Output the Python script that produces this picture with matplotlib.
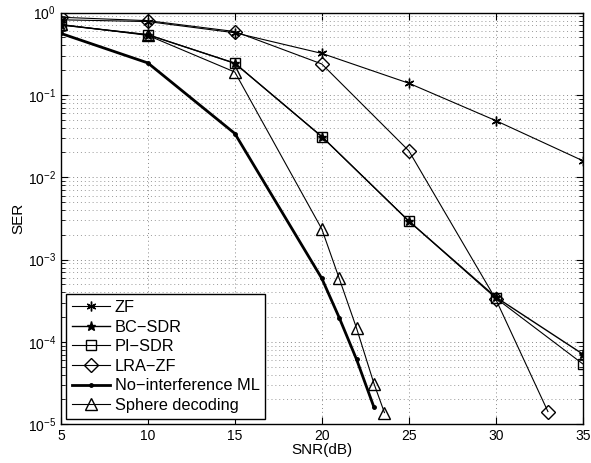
import matplotlib.pyplot as plt
from matplotlib.ticker import LogLocator, NullFormatter

plt.rcParams['font.family'] = ['Liberation Sans', 'DejaVu Sans']
plt.rcParams['mathtext.fontset'] = 'custom'
plt.rcParams['mathtext.rm'] = 'Liberation Sans'

# data
snr_zf = [5, 10, 15, 20, 25, 30, 35]
ser_zf = [0.82, 0.78, 0.57, 0.32, 0.139, 0.0488, 0.0159]

snr_bc = [5, 10, 15, 20, 25, 30, 35]
ser_bc = [0.71, 0.54, 0.243, 0.0312, 0.00294, 3.5e-4, 7.1e-5]

snr_pi = [5, 10, 15, 20, 25, 30, 35]
ser_pi = [0.71, 0.54, 0.243, 0.0312, 0.00294, 3.4e-4, 5.4e-5]

snr_lra = [5, 10, 15, 20, 25, 30, 33]
ser_lra = [0.88, 0.80, 0.59, 0.238, 0.021, 3.3e-4, 1.42e-5]

snr_ml = [5, 10, 15, 20, 21, 22, 23]
ser_ml = [0.56, 0.245, 0.034, 5.9e-4, 1.97e-4, 6.1e-5, 1.6e-5]

snr_sd = [5, 10, 15, 20, 21, 22, 23, 23.6]
ser_sd = [0.72, 0.53, 0.19, 2.35e-3, 5.9e-4, 1.46e-4, 3.1e-5, 1.38e-5]

fig = plt.figure(figsize=(5.91, 4.63), dpi=100)
ax = fig.add_axes([0.103, 0.084, 0.883, 0.8886])

kw = dict(color='black', linewidth=0.8, markerfacecolor='none', markeredgecolor='black')
ax.semilogy(snr_zf, ser_zf, marker=(6, 2, 0), markersize=7, label='ZF', **kw)
ax.semilogy(snr_bc, ser_bc, marker='*', markersize=6.5, markerfacecolor='black',
            color='black', linewidth=1.0, markeredgecolor='black', label='BC\u2212SDR')
ax.semilogy(snr_pi, ser_pi, marker='s', markersize=7.5, label='PI\u2212SDR', **kw)
ax.semilogy(snr_lra, ser_lra, marker='D', markersize=7, label='LRA\u2212ZF', **kw)
ax.semilogy(snr_ml, ser_ml, marker='.', markersize=5, color='black', linewidth=2.0,
            label='No\u2212interference ML')
ax.semilogy(snr_sd, ser_sd, marker='^', markersize=8.5, label='Sphere decoding', **kw)

ax.set_xlim(5, 35)
ax.set_ylim(1e-5, 1)
ax.set_xticks([5, 10, 15, 20, 25, 30, 35])
ax.yaxis.set_major_locator(LogLocator(base=10, numticks=10))
ax.yaxis.set_minor_locator(LogLocator(base=10, subs=range(2, 10), numticks=20))
ax.yaxis.set_minor_formatter(NullFormatter())

ax.grid(True, which='major', axis='both', linestyle=(0, (1, 3)), color='#888888', linewidth=0.7)
ax.grid(True, which='minor', axis='y', linestyle=(0, (1, 3)), color='#999999', linewidth=0.7)

ax.tick_params(which='both', direction='in', top=True, right=True, labelsize=10)
ax.tick_params(which='major', length=5)
ax.tick_params(which='minor', length=3)
for s in ax.spines.values():
    s.set_linewidth(1.0)

ax.set_xlabel('SNR(dB)', fontsize=11, labelpad=0)
ax.set_ylabel('SER', fontsize=11, labelpad=2)

leg = ax.legend(loc='lower left', fontsize=11.8, frameon=True, fancybox=False,
                edgecolor='black', framealpha=1, handlelength=2.3,
                borderaxespad=0.33, labelspacing=0.28, borderpad=0.35, handletextpad=0.3)
leg.get_frame().set_linewidth(1.0)

fig.savefig('out.png', dpi=100)
